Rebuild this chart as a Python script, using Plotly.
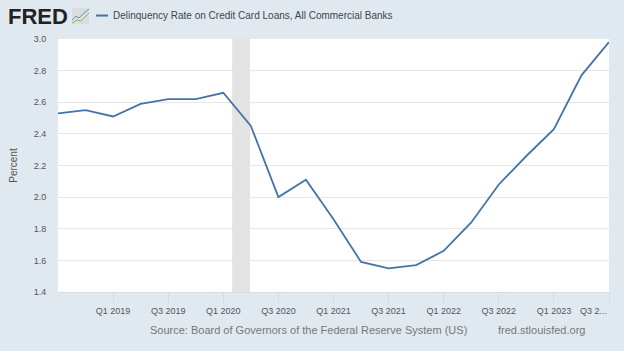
import plotly.graph_objects as go

categories = ["Q3 2018","Q4 2018","Q1 2019","Q2 2019","Q3 2019","Q4 2019","Q1 2020","Q2 2020","Q3 2020","Q4 2020",
              "Q1 2021","Q2 2021","Q3 2021","Q4 2021","Q1 2022","Q2 2022","Q3 2022","Q4 2022","Q1 2023","Q2 2023","Q3 2023"]
values = [2.53,2.55,2.51,2.59,2.62,2.62,2.66,2.45,2.00,2.11,1.86,1.59,1.55,1.57,1.66,1.84,2.08,2.26,2.43,2.77,2.98]
tick_labels = ["Q1 2019","Q3 2019","Q1 2020","Q3 2020","Q1 2021","Q3 2021","Q1 2022","Q3 2022","Q1 2023","Q3 2023"]
y_ticks = [1.4,1.6,1.8,2.0,2.2,2.4,2.6,2.8,3.0]
recession = [6.32, 6.97]
title = "Delinquency Rate on Credit Card Loans, All Commercial Banks"
source = "Source: Board of Governors of the Federal Reserve System (US)"
site = "fred.stlouisfed.org"
BG = "#e1e9f0"
W, H = 624, 351
L, R, T, B = 58, 609, 39, 292.5
FONT = "Liberation Sans"

def px(x): return (x - L) / (R - L)
def py(y): return (B - y) / (B - T)

fig = go.Figure(go.Scatter(x=categories, y=values, mode="lines", line=dict(color="#4572a7", width=1.8), hoverinfo="skip", cliponaxis=False))

shapes = [dict(type="rect", xref="x", yref="paper", x0=recession[0], x1=recession[1], y0=0, y1=1,
               fillcolor="#e3e3e3", line_width=0, layer="below"),
          # legend key
          dict(type="line", xref="paper", yref="paper", x0=px(96), x1=px(108), y0=py(15.5), y1=py(15.5),
               line=dict(color="#4572a7", width=2)),
          # logo icon
          dict(type="rect", xref="paper", yref="paper", x0=px(72), x1=px(89), y0=py(8), y1=py(24),
               fillcolor="#d9dde0", line_width=0),
          dict(type="path", xref="paper", yref="paper",
               path=f"M {px(72)} {py(20)} L {px(76)} {py(16)} L {px(79)} {py(18)} L {px(84)} {py(13)} L {px(89)} {py(9)}",
               line=dict(color="#6d8fb5", width=1)),
          dict(type="path", xref="paper", yref="paper",
               path=f"M {px(72)} {py(23)} L {px(77)} {py(20)} L {px(81)} {py(21)} L {px(85)} {py(17)} L {px(89)} {py(13)}",
               line=dict(color="#94b06a", width=1))]

anns = [
    dict(text="<b>FRED</b>", x=px(6), y=py(16), xanchor="left", yanchor="middle", showarrow=False,
         font=dict(family="Liberation Sans", size=22, color="#222222")),
    dict(text=title, x=px(111), y=py(15.5), xanchor="left", yanchor="middle", showarrow=False,
         font=dict(family=FONT, size=10, color="#444444")),
    dict(text="Percent", x=px(14), y=py(166), textangle=-90, xanchor="center", yanchor="middle", showarrow=False,
         font=dict(family=FONT, size=10, color="#555555")),
    dict(text="Q3 2...", x=px(593), y=py(312), xanchor="center", yanchor="middle", showarrow=False,
         font=dict(family=FONT, size=9, color="#555555")),
    dict(text=source, x=px(148), y=py(331), xanchor="left", yanchor="middle", showarrow=False,
         font=dict(family=FONT, size=11, color="#777777")),
    dict(text=site, x=px(496), y=py(331), xanchor="left", yanchor="middle", showarrow=False,
         font=dict(family=FONT, size=11, color="#777777")),
]
for a in anns:
    a.update(xref="paper", yref="paper")

fig.update_layout(
    width=W, height=H, paper_bgcolor=BG, plot_bgcolor="white", showlegend=False,
    margin=dict(l=L, r=W-R, t=T, b=H-B, autoexpand=False),
    shapes=shapes, annotations=anns,
    xaxis=dict(type="category", categoryorder="array", categoryarray=categories, range=[0,20],
               tickmode="array", tickvals=tick_labels, ticktext=[*tick_labels[:-1], ""],
               ticks="outside", ticklen=10, tickcolor="#d5dce6", tickwidth=1, showgrid=False,
               showline=True, linecolor="#d5dce6", linewidth=1,
               tickfont=dict(family=FONT, size=9, color="#555555")),
    yaxis=dict(range=[1.4,3.0], tickvals=y_ticks, tickformat=".1f", gridcolor="#e6e6e6", gridwidth=1,
               zeroline=False, showline=False, ticks="outside", ticklen=9, tickcolor="rgba(0,0,0,0)",
               tickfont=dict(family=FONT, size=9, color="#555555"), automargin=False),
)
fig.write_html("out.html", config={"displayModeBar": False}, post_script="document.body.style.margin='0';document.documentElement.style.overflow='hidden';")
